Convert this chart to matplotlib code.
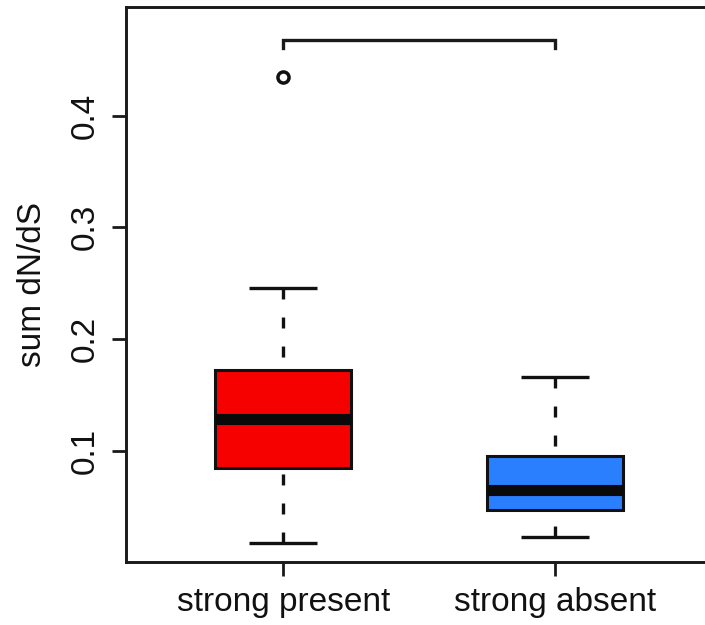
import numpy as np
import matplotlib
matplotlib.use("Agg")
import matplotlib.pyplot as plt

# data
groups = ["strong present", "strong absent"]
box_colors = ["#F70000", "#2A7FFF"]
whislo = [0.0171, 0.0230]
q1 = [0.0842, 0.0469]
medians = [0.1281, 0.0648]
q3 = [0.1723, 0.0953]
whishi = [0.2454, 0.1657]
outliers = [[0.4349], []]
bracket_y = 0.4672
bracket_drop = 0.4604
yticks = [0.1, 0.2, 0.3, 0.4]

plt.rcParams['font.family'] = ['Liberation Sans', 'DejaVu Sans']

fig = plt.figure(figsize=(7.05, 6.25), dpi=100)
ax = fig.add_axes([0.1787, 0.1013, 0.832, 0.8872])

stats = []
for i in range(len(groups)):
    stats.append(dict(label=groups[i], whislo=whislo[i], q1=q1[i], med=medians[i],
                      q3=q3[i], whishi=whishi[i], fliers=outliers[i]))

bp = ax.bxp(stats, positions=[1, 2], widths=0.5, capwidths=0.25, patch_artist=True,
            boxprops=dict(linewidth=2.2, edgecolor="#111111"),
            medianprops=dict(color="#0a0a0a", linewidth=8, solid_capstyle="butt"),
            whiskerprops=dict(color="#111111", linewidth=2.4,
                              linestyle=(0, (7.9 / 2.4, 13 / 2.4))),
            capprops=dict(color="#111111", linewidth=2.4, solid_capstyle="butt"),
            flierprops=dict(marker="o", markersize=8, markerfacecolor="none",
                            markeredgecolor="#111111", markeredgewidth=2.5))

for patch, c in zip(bp["boxes"], box_colors):
    patch.set_facecolor(c)

# R draws the whisker from the staple towards the box
for w in bp["whiskers"]:
    w.set_ydata(w.get_ydata()[::-1])
    w.set_dash_capstyle("butt")

# significance bracket
ax.plot([1, 1, 2, 2], [bracket_drop, bracket_y, bracket_y, bracket_drop],
        color="#1a1a1a", linewidth=2.4, solid_joinstyle="miter")

ax.set_xlim(0.421, 2.58)
ax.set_ylim(0.0006, 0.497)
ax.set_yticks(yticks)
ax.set_yticklabels([str(v) for v in yticks], rotation=90, va="center")
ax.set_xticks([1, 2])
ax.set_xticklabels(groups)
ax.set_ylabel("sum dN/dS", fontsize=24, labelpad=16, color="#111111")

ax.tick_params(axis="both", labelsize=24, length=10, width=2.0, color="#1a1a1a",
               labelcolor="#111111")
ax.tick_params(axis="x", pad=8)
ax.tick_params(axis="y", pad=8)
for s in ["left", "bottom", "top"]:
    ax.spines[s].set_linewidth(2.1)
    ax.spines[s].set_color("#1a1a1a")
ax.spines["right"].set_visible(False)

fig.savefig("out.png", dpi=100)
